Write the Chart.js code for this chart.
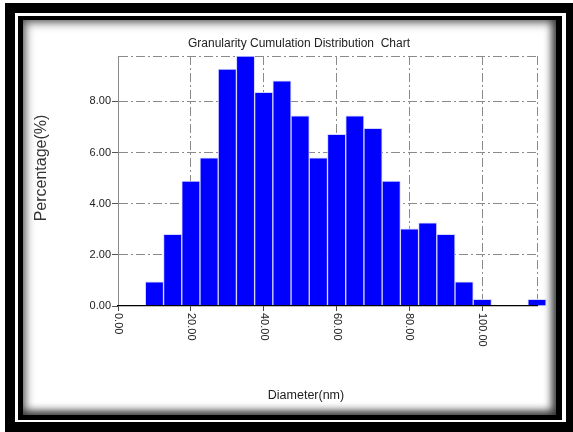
<!DOCTYPE html>
<html>
<head>
<meta charset="utf-8">
<script src="https://cdn.jsdelivr.net/npm/chart.js@4/dist/chart.umd.min.js"></script>
<style>
  html, body { margin: 0; padding: 0; background: #ffffff; }
  body { width: 573px; height: 432px; position: relative; overflow: hidden; }
  .box { position: absolute; }
  #frameOuter { left: 5px; top: 3px; width: 568px; height: 429px; background: #000; }
  #frameLine  { left: 15px; top: 13px; width: 551px; height: 409px; background: #fff; }
  #frameInner { left: 18px; top: 16px; width: 544px; height: 404px; background: #000; }
  #panel {
    left: 23px; top: 20px; width: 533px; height: 395px; background: #fff;
    box-shadow: inset 0 0 10px 3px rgba(0,0,0,0.55), inset -3px -3px 8px rgba(0,0,0,0.6);
  }
  #chart { position: absolute; left: 0; top: 0; }
</style>
</head>
<body>
<div class="box" id="frameOuter"></div>
<div class="box" id="frameLine"></div>
<div class="box" id="frameInner"></div>
<div class="box" id="panel"></div>
<canvas id="chart" width="573" height="432"></canvas>
<script>
// Particle size classes (nm) and their share of the sample (%)
const diameters   = [10, 15, 20, 25, 30, 35, 40, 45, 50, 55, 60, 65, 70, 75, 80, 85, 90, 95, 100, 105, 110, 115];
const percentages = [0.94, 2.80, 4.88, 5.79, 9.26, 9.77, 8.35, 8.80, 7.43, 5.79, 6.71, 7.43, 6.94, 4.88, 3.02, 3.25, 2.80, 0.94, 0.26, 0, 0, 0.26];

// Axis ticks and ranges
const xTickValues = [0, 20, 40, 60, 80, 100];
const yTickValues = [0, 2, 4, 6, 8];
const xMax = 115;
const yMax = 9.77;

const chartTitle = 'Granularity Cumulation Distribution  Chart';
const xTitle = 'Diameter(nm)';
const yTitle = 'Percentage(%)';

const FONT = '"Liberation Sans", Arial, sans-serif';
const TEXT = '#222222';
const GRID = '#8a8a8a';
const NONE = 'rgba(0,0,0,0)';

// empty size classes are left out of the bar set
const points = diameters
  .map((d, i) => ({ x: d, y: percentages[i] }))
  .filter(p => p.y > 0);

// Titles and top-to-bottom x tick labels
const captions = {
  id: 'captions',
  afterDraw(chart) {
    const ctx = chart.ctx;
    const xs = chart.scales.x;
    ctx.save();
    ctx.fillStyle = TEXT;

    ctx.font = '12px ' + FONT;
    ctx.textAlign = 'center';
    ctx.textBaseline = 'middle';
    ctx.fillText(chartTitle, 299, 44);

    ctx.font = '12.5px ' + FONT;
    ctx.fillText(xTitle, 306, 396);

    ctx.save();
    ctx.translate(41.5, 168);
    ctx.rotate(-Math.PI / 2);
    ctx.font = '16px ' + FONT;
    ctx.fillStyle = '#333';
    ctx.fillText(yTitle, 0, 0);
    ctx.restore();

    ctx.font = '11px ' + FONT;
    ctx.textAlign = 'left';
    xTickValues.forEach(v => {
      const px = xs.getPixelForValue(v);
      ctx.save();
      ctx.translate(px, xs.top + 7);
      ctx.rotate(Math.PI / 2);
      ctx.fillText(v.toFixed(2), 0, 0);
      ctx.restore();
    });
    ctx.restore();
  }
};

const tickVal = c => c.tick && c.tick.value;

new Chart(document.getElementById('chart'), {
  type: 'bar',
  data: {
    datasets: [{
      data: points,
      backgroundColor: '#0000ff',
      borderColor: '#d4d4ff',
      borderWidth: 1,
      barPercentage: 1,
      categoryPercentage: 1,
      clip: false
    }]
  },
  options: {
    responsive: false,
    animation: false,
    devicePixelRatio: 1,
    layout: { padding: { left: 20, right: 36, top: 56, bottom: 10 } },
    plugins: { legend: { display: false }, tooltip: { enabled: false }, title: { display: false } },
    scales: {
      x: {
        type: 'linear',
        offset: false,
        min: 0,
        max: xMax,
        afterBuildTicks: s => { s.ticks = [...xTickValues, xMax].map(v => ({ value: v })); },
        afterFit: s => { s.height = 432 - 10 - 306; },
        ticks: { display: false },
        grid: {
          offset: false,
          color: c => tickVal(c) === 0 ? NONE : GRID,
          lineWidth: 1,
          drawTicks: true,
          tickLength: 5,
          tickColor: c => xTickValues.includes(tickVal(c)) ? '#444' : NONE
        },
        border: { display: true, color: '#000', width: 1.3, dash: [9, 3, 2, 3], z: 1 }
      },
      y: {
        min: 0,
        max: yMax,
        afterBuildTicks: s => { s.ticks = [...yTickValues, yMax].map(v => ({ value: v })); },
        afterFit: s => { s.width = 118 - 20; },
        ticks: {
          padding: 1,
          color: TEXT,
          font: { family: FONT, size: 11 },
          callback: v => yTickValues.includes(v) ? v.toFixed(2) : ''
        },
        grid: {
          color: c => tickVal(c) === 0 ? NONE : GRID,
          lineWidth: 1,
          drawTicks: true,
          tickLength: 6,
          tickColor: c => yTickValues.includes(tickVal(c)) ? '#555' : NONE
        },
        border: { display: true, color: '#8a8a8a', width: 1, dash: [9, 3, 2, 3] }
      }
    }
  },
  plugins: [captions]
});
</script>
</body>
</html>
